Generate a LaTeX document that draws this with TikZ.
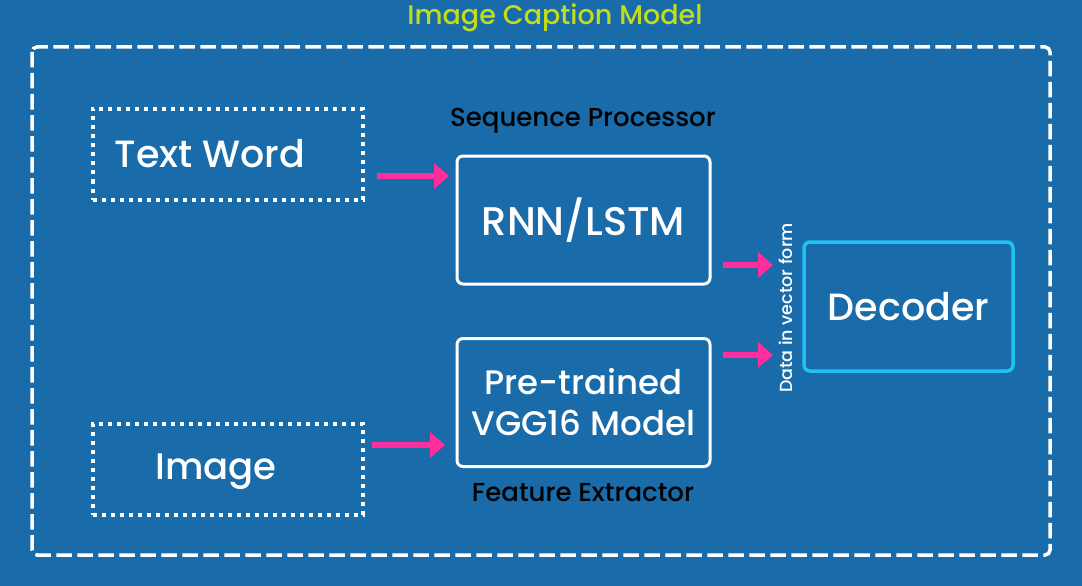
\documentclass[tikz,border=0pt]{standalone}
\usepackage{fontspec}
\setmainfont{Poppins}[UprightFont={* Medium}]
\usetikzlibrary{arrows.meta}
\definecolor{bgblue}{HTML}{196BA9}
\definecolor{titlegreen}{HTML}{C2DD1A}
\definecolor{arrowpink}{HTML}{FF2E9C}
\definecolor{deccyan}{HTML}{1EC3F2}
\tikzset{
  x=1pt, y=-1pt,
  outerbox/.style={draw=white, line width=3.5pt, dash pattern=on 15.5pt off 5.5pt, rounded corners=5pt},
  dotbox/.style={draw=white, line width=4pt, dash pattern=on 4pt off 5pt, minimum width=270pt, minimum height=91pt},
  boxtext/.style={text=white, font=\fontsize{37}{40}\selectfont, inner sep=0pt},
  solidbox/.style={draw=white, line width=3pt, rounded corners=6pt, minimum width=253pt, minimum height=128pt, text=white, font=\fontsize{40}{44}\selectfont, align=center},
  decbox/.style={draw=deccyan, line width=3.5pt, rounded corners=6pt, minimum width=209pt, minimum height=129pt, text=white, font=\fontsize{38}{42}\selectfont},
  label/.style={text=black, font=\fontsize{26}{30}\selectfont},
  pinkarrow/.style={draw=arrowpink, line width=6pt, -{Triangle[length=15pt,width=25pt]}},
}
\begin{document}
\begin{tikzpicture}
\useasboundingbox (0,0) rectangle (1082,586);
\fill[bgblue] (0,0) rectangle (1082,586);
\node[text=titlegreen, font=\fontsize{27}{30}\selectfont] (title) at (555,18) {Image Caption Model};
\draw[outerbox] (32,47) rectangle (1050,555);
\node[dotbox] (text) at (228,154) {};
\node[boxtext, font=\fontsize{38}{40}\selectfont, anchor=base] (texttxt) at (210,167) {Text Word};
\node[dotbox] (image) at (228,469) {};
\node[boxtext, anchor=base] (imagetxt) at (216,479) {Image};
\node[solidbox] (rnn) at (583.5,220) {RNN/LSTM};
\node[solidbox, font=\fontsize{34}{41}\selectfont] (vgg) at (583.5,402.5) {Pre-trained\\VGG16 Model};
\node[decbox] (dec) at (908.5,306.5) {Decoder};
\node[label] (seq) at (583,121) {Sequence Processor};
\node[label] (feat) at (583,493) {Feature Extractor};
\node[text=white, rotate=90, font=\fontsize{17.5}{20}\selectfont] (data) at (786,308) {Data in vector form};
\coordinate (a1s) at (377,176);
\coordinate (a1e) at (449,176);
\draw[pinkarrow] (a1s) -- (a1e);
\coordinate (a2s) at (372,445);
\coordinate (a2e) at (445,445);
\draw[pinkarrow] (a2s) -- (a2e);
\coordinate (a3s) at (723,265);
\coordinate (a3e) at (773,265);
\draw[pinkarrow] (a3s) -- (a3e);
\coordinate (a4s) at (723,355);
\coordinate (a4e) at (773,355);
\draw[pinkarrow] (a4s) -- (a4e);
\end{tikzpicture}
\end{document}
